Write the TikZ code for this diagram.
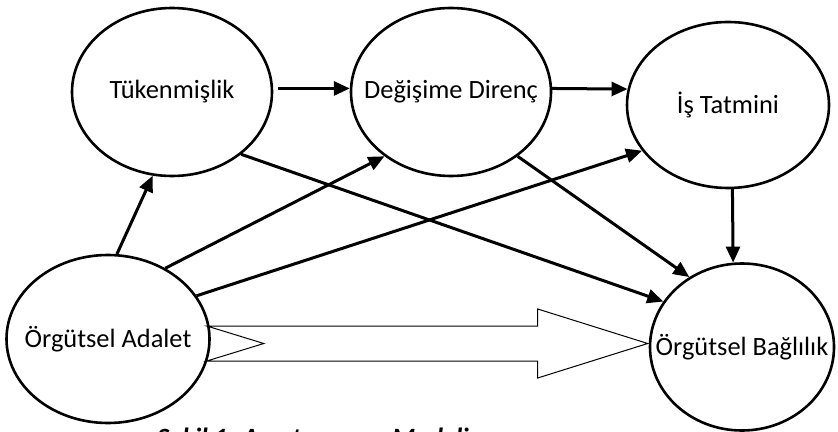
\documentclass[tikz,border=0pt]{standalone}
\usepackage{fontspec}
\setmainfont{Carlito}
\usetikzlibrary{arrows.meta,shapes.geometric,calc}

\begin{document}
\begin{tikzpicture}[x=0.5pt, y=-0.5pt, >={Triangle[length=8pt,width=7pt]},
  oval/.style={draw, ellipse, inner sep=0pt, line width=1.3pt, font=\fontsize{13.2}{16}\selectfont},
  link/.style={->, line width=1.5pt},
  fat/.style={draw, line width=0.5pt, line join=miter}]
  \useasboundingbox (0,0) rectangle (838,432);
  \node[oval, minimum width=100pt, minimum height=84pt] (tuk) at (172,92) {\makebox[0pt]{Tükenmişlik}};
  \node[oval, minimum width=100pt, minimum height=84pt] (deg) at (451,92) {\makebox[0pt]{Değişime Direnç}};
  \node[oval, minimum width=101pt, minimum height=83pt] (is) at (728,105) {\makebox[0pt]{İş Tatmini}};
  \node[oval, minimum width=101.5pt, minimum height=84pt] (adalet) at (108,339) {\makebox[0pt]{Örgütsel Adalet}};
  \node[oval, minimum width=92pt, minimum height=83.5pt] (bag) at (742,347) {\makebox[0pt]{Örgütsel Bağlılık}};
  \node[anchor=base west, font=\fontsize{13.2}{16}\selectfont\bfseries\itshape] (caption) at (150,446) {Şekil 1: Araştırmanın Modeli};
  \draw[link, shorten <=2.5pt] (tuk.2) -- (deg.178);
  \draw[link] (deg.2) -- (is.171);
  \draw[link] (is.-87) -- (bag.96);
  \draw[link] (adalet.84) -- (tuk.-103);
  \draw[link] (adalet.51) -- (deg.-136);
  \draw[link] (adalet.26) -- (is.-152);
  \draw[link] (tuk.-42) -- (bag.150);
  \draw[link] (deg.-44) -- (bag.127);
  % hollow arrow
  \coordinate (fattail) at ($(adalet.east)+(-4,4.5)$);
  \coordinate (fattip) at ($(bag.west)+(-1,-3.5)$);
  \draw[fat] ($(fattail)+(0,-17.5)$) -- ($(fattip)+(-110,-17.5)$) -- ($(fattip)+(-110,-34.5)$)
    -- (fattip) -- ($(fattip)+(-110,34.5)$) -- ($(fattip)+(-110,17.5)$)
    -- ($(fattail)+(0,17.5)$) -- ($(fattail)+(57,0)$) -- cycle;
\end{tikzpicture}
\end{document}
